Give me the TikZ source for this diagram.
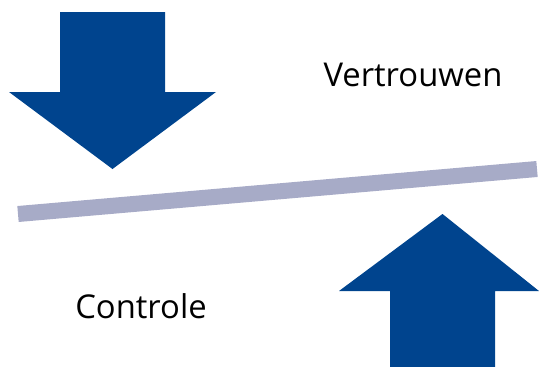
\documentclass[tikz,border=0pt]{standalone}
\usepackage{fontspec}
\setmainfont{Open Sans}
\definecolor{arrowblue}{RGB}{0,68,142}
\definecolor{beamgray}{RGB}{167,171,199}
\begin{document}
\begin{tikzpicture}[x=1pt,y=-1pt,
  bigarrow/.style={fill=arrowblue,draw=none},
  beam/.style={draw=beamgray,line width=16pt},
  lbl/.style={font=\fontsize{32.8}{40}\selectfont,inner sep=0pt,anchor=base}]
\useasboundingbox (0,0) rectangle (539,367);
% down arrow
\fill[bigarrow] (60,12) -- (165,12) -- (165,92) -- (216,92) -- (112.5,169) -- (9,92) -- (60,92) -- cycle;
% up arrow
\fill[bigarrow] (390,367) -- (495,367) -- (495,291) -- (539,291) -- (442.5,214) -- (339,291) -- (390,291) -- cycle;
% beam
\coordinate (bl) at (18,214);
\coordinate (br) at (537,169);
\draw[beam] (bl) -- (br);
% labels
\node[lbl] (vert) at (413,86.5) {Vertrouwen};
\node[lbl] (ctrl) at (141,318.3) {Controle};
\end{tikzpicture}
\end{document}
